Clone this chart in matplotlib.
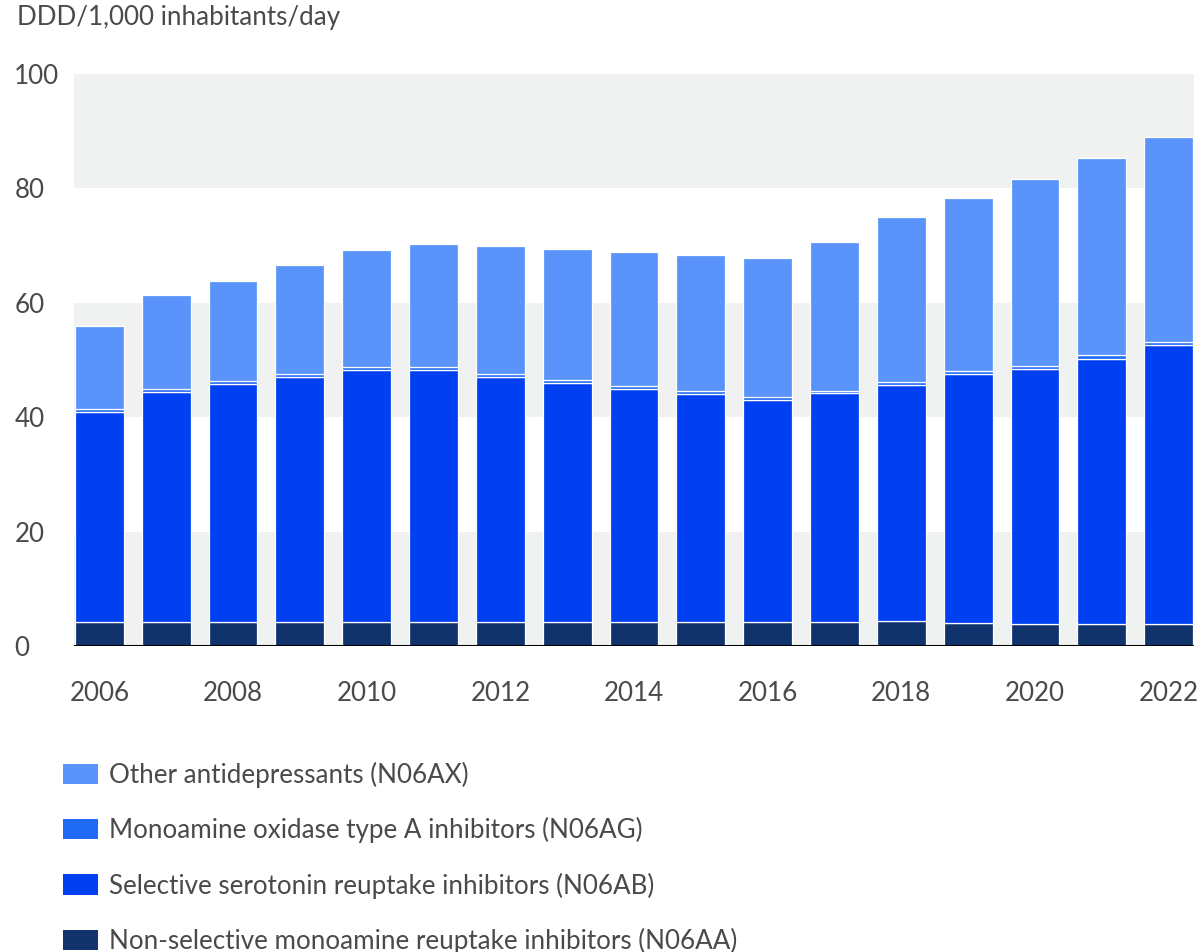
import matplotlib
matplotlib.use("Agg")
import matplotlib.pyplot as plt
from matplotlib.patches import Patch
import numpy as np

years = list(range(2006, 2023))
non_selective = [4.2, 4.2, 4.2, 4.2, 4.2, 4.2, 4.2, 4.2, 4.2, 4.2, 4.2, 4.2, 4.3, 4.0, 3.9, 3.9, 3.9]
ssri_top = [40.9, 44.4, 45.8, 47.0, 48.3, 48.3, 47.0, 46.0, 45.0, 44.1, 43.0, 44.2, 45.7, 47.6, 48.5, 50.2, 52.6]
maoi = [0.5, 0.5, 0.5, 0.5, 0.5, 0.5, 0.5, 0.5, 0.5, 0.5, 0.5, 0.4, 0.5, 0.4, 0.5, 0.6, 0.5]
totals = [55.9, 61.4, 63.8, 66.6, 69.2, 70.3, 69.9, 69.4, 68.9, 68.4, 67.8, 70.6, 75.0, 78.3, 81.6, 85.3, 89.0]

ssri = [s - n for s, n in zip(ssri_top, non_selective)]
other = [t - s - m for t, s, m in zip(totals, ssri_top, maoi)]

labels = ["Other antidepressants (N06AX)",
          "Monoamine oxidase type A inhibitors (N06AG)",
          "Selective serotonin reuptake inhibitors (N06AB)",
          "Non-selective monoamine reuptake inhibitors (N06AA)"]
colors = ["#5a94fa", "#1f6bf5", "#0040f0", "#10336b"]

plt.rcParams['font.family'] = ['Lato', 'DejaVu Sans']
plt.rcParams['font.weight'] = 'normal'
text_color = "#4a4a4a"
fs = 18.7

fig = plt.figure(figsize=(12.04, 9.52), dpi=100)
ax = fig.add_axes([74/1204, 1-646/952, (1194-74)/1204, (646-74)/952])

x = np.arange(len(years))
w = 0.73
ec = dict(edgecolor="white", linewidth=0.9)
ax.bar(x, non_selective, w, color=colors[3], zorder=3, **ec)
ax.bar(x, ssri, w, bottom=non_selective, color=colors[2], zorder=3, **ec)
ax.bar(x, maoi, w, bottom=ssri_top, color=colors[1], zorder=3, **ec)
ax.bar(x, other, w, bottom=[s + m for s, m in zip(ssri_top, maoi)], color=colors[0], zorder=3, **ec)

for lo in (0, 40, 80):
    ax.axhspan(lo, lo + 20, color="#f0f2f2", zorder=0, lw=0)

ax.set_xlim(-0.38, len(years) - 1 + 0.38)
ax.set_ylim(0, 100)
ax.axhline(0, color="black", lw=1.5, zorder=4)
for s in ax.spines.values():
    s.set_visible(False)

ax.set_yticks([0, 20, 40, 60, 80, 100])
ax.set_yticklabels(["0", "20", "40", "60", "80", "100"])
ax.set_xticks(x[::2])
ax.set_xticklabels([str(y) for y in years[::2]])
ax.tick_params(axis="y", length=0, pad=43, labelsize=fs, labelcolor=text_color)
ax.tick_params(axis="x", length=0, pad=25, labelsize=fs, labelcolor=text_color)
for lab in ax.get_yticklabels():
    lab.set_ha("left")

fig.text(17/1204, 1-18/952, "DDD/1,000 inhabitants/day", fontsize=fs, color=text_color,
         ha="left", va="center")

handles = [Patch(facecolor=c, edgecolor="none") for c in colors]
leg = fig.legend(handles, labels, loc="upper left", bbox_to_anchor=(63/1204, 1-762/952),
                 frameon=False, fontsize=fs, handlelength=1.34, handleheight=0.83,
                 handletextpad=0.45, labelspacing=1.12, borderaxespad=0, borderpad=0)
for t in leg.get_texts():
    t.set_color(text_color)

fig.savefig("out.png", dpi=100)
